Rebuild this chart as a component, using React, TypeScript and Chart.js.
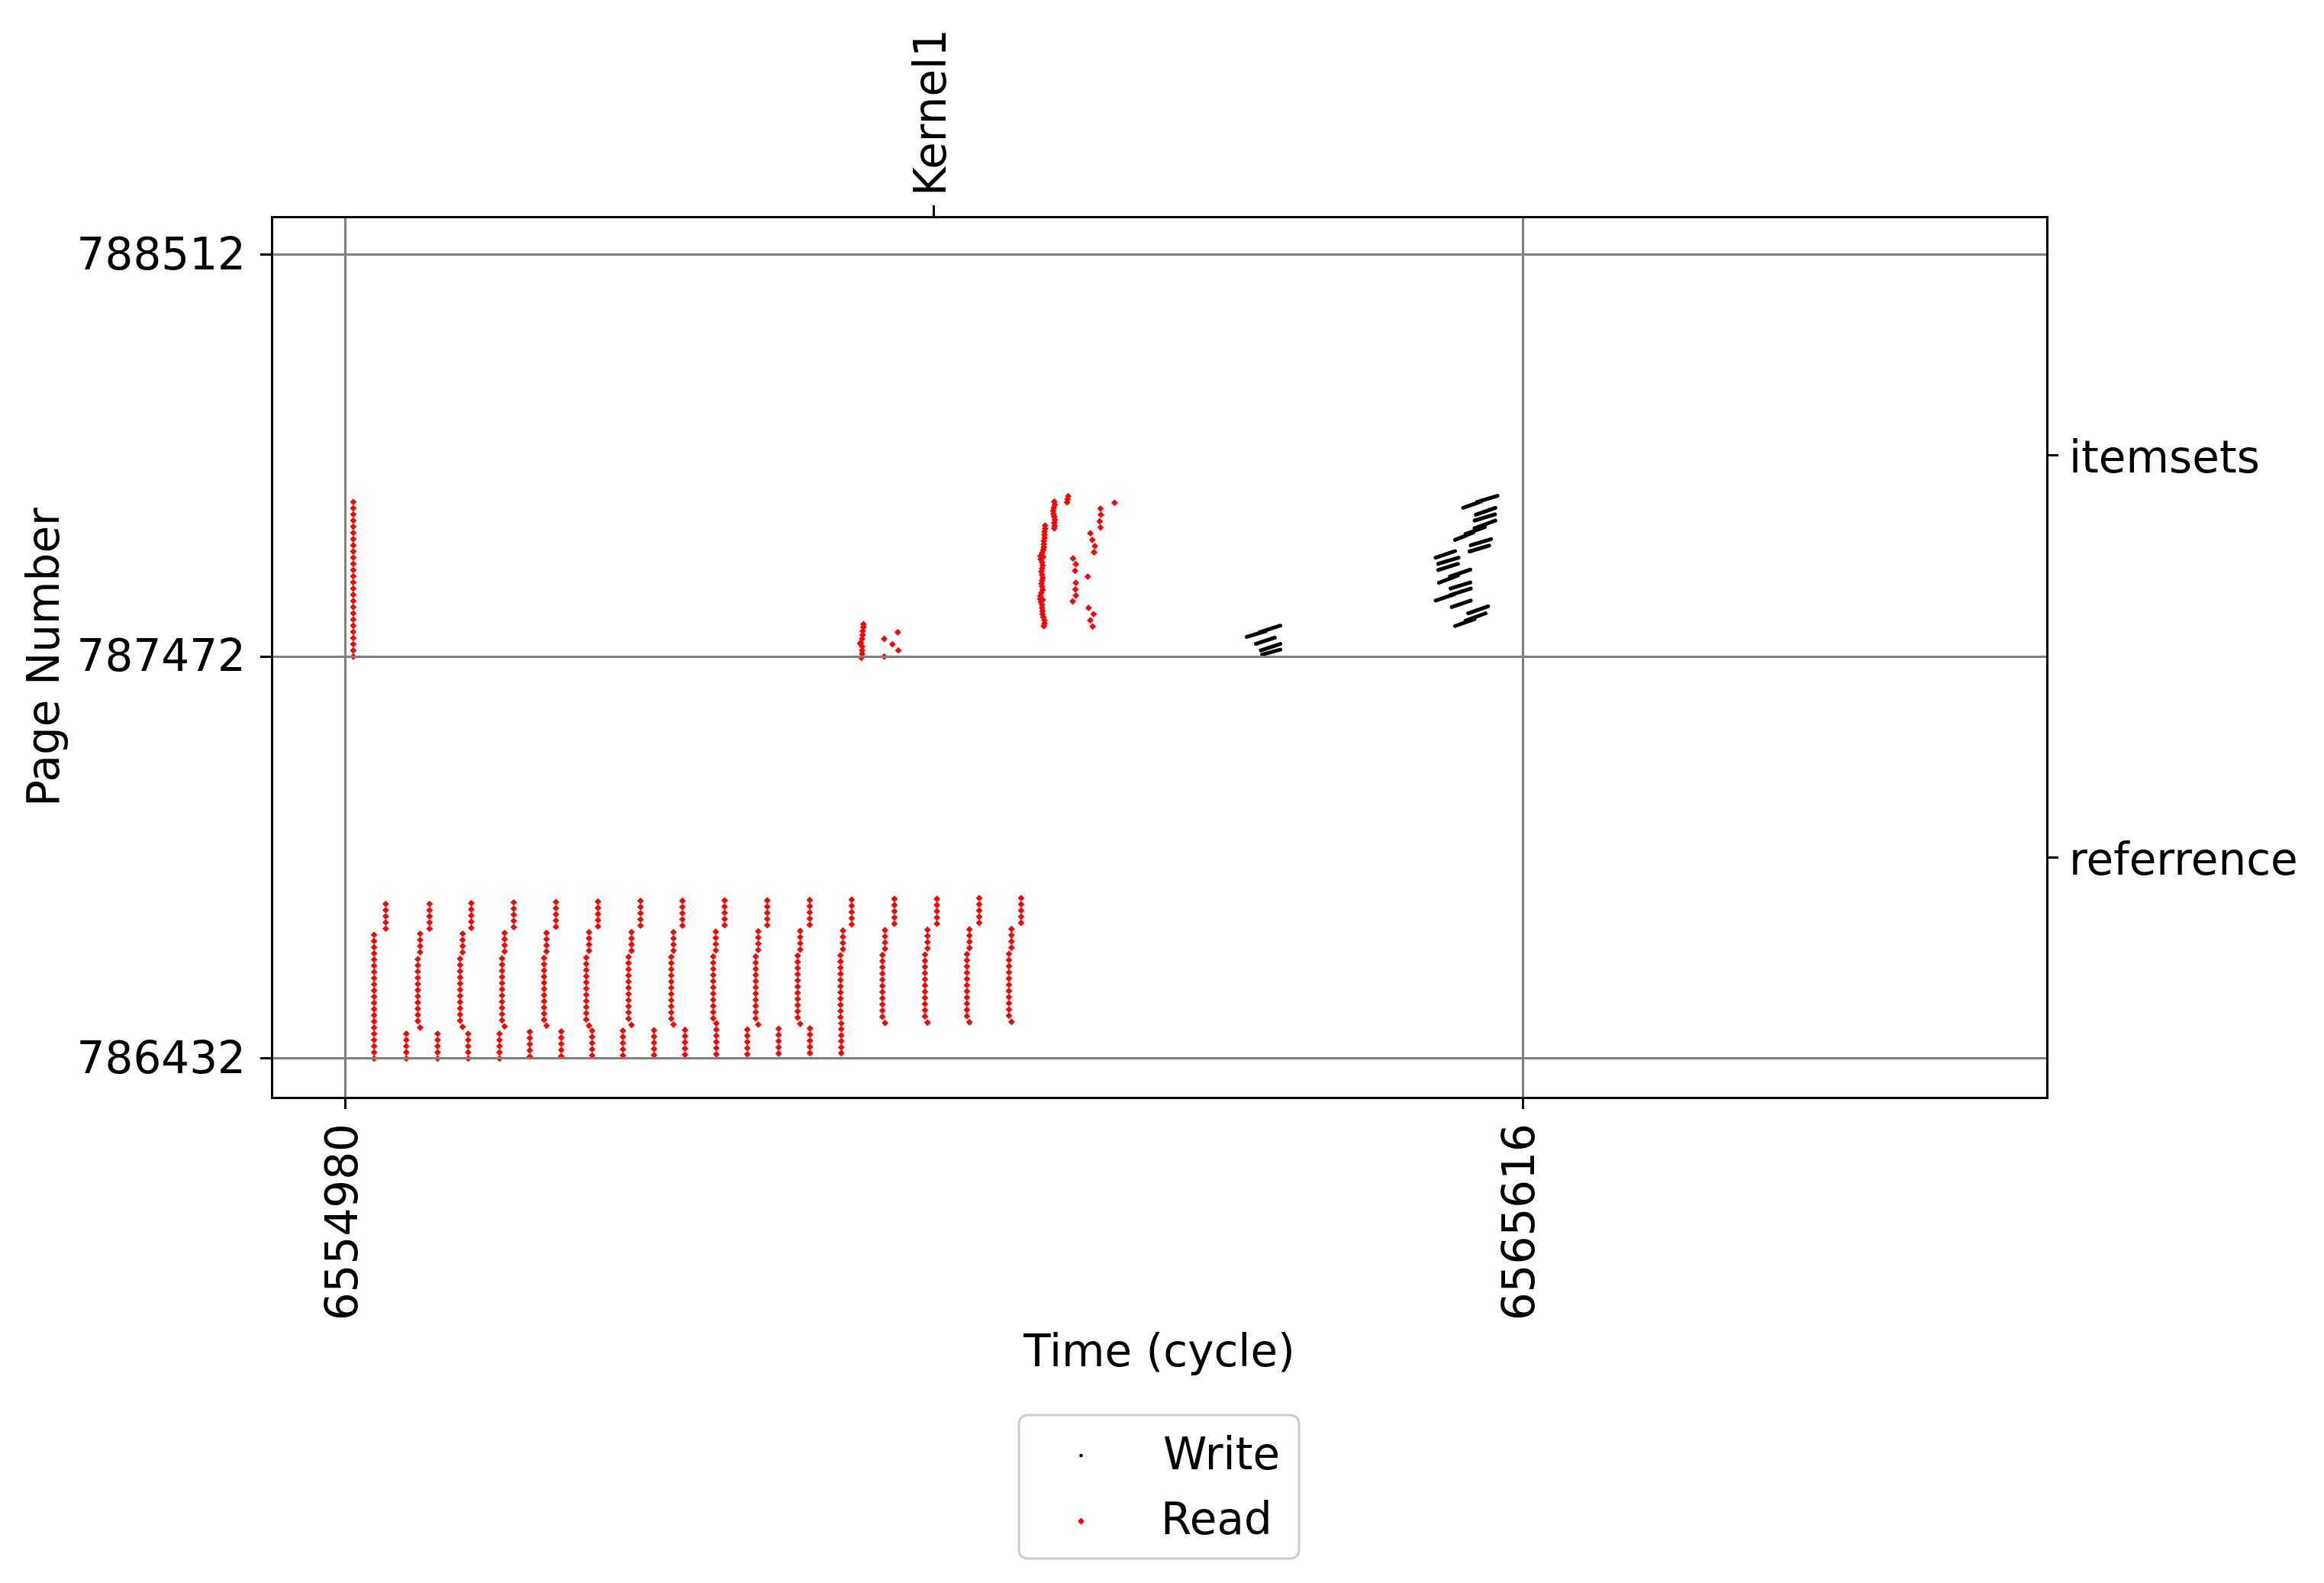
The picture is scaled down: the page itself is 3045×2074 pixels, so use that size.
import React, { useEffect, useRef } from 'react';
import { Chart, registerables } from 'chart.js';

Chart.register(...registerables);

const W = 3045;
const H = 2074;

// ---- axes ----
const X_MIN = 6554314;
const X_MAX = 6570353;
const Y_MIN = 786331;
const Y_MAX = 788610;
const xTicks = [6554980, 6565616];
const yTicks = [786432, 787472, 788512];
const topTickValues = [6560296];
const topTickLabels = ['Kernel1'];
const rightTickValues = [786952, 787992];
const rightTickLabels = ['referrence', 'itemsets'];

const xTitle = 'Time (cycle)';
const yTitle = 'Page Number';
const seriesNames = ['Write', 'Read'];

// ---- Read accesses, "referrence" region: vertical runs (cycle, pages) ----
const refRunCycles = [
  6555239, 6555344, 6555530, 6555634, 6555655, 6555740, 6555813, 6556016, 6556039, 6556089, 6556117,
  6556372, 6556395, 6556418, 6556501, 6556646, 6556775, 6556797, 6556882, 6556930,
  6557156, 6557181, 6557209, 6557262, 6557487, 6557538, 6557565, 6557646, 6557768,
  6557924, 6557944, 6558025, 6558048, 6558303, 6558326, 6558331, 6558406, 6558611,
  6558687, 6558710, 6558791, 6558894, 6559066, 6559089, 6559175, 6559177,
  6559453, 6559475, 6559460, 6559554, 6559832, 6559855, 6559940,
  6560216, 6560239, 6560324, 6560595, 6560618, 6560706, 6560975, 6560998, 6561085,
];

const refRunPages: number[][] = [
  [786432, 786448, 786464, 786480, 786496, 786512, 786528, 786544, 786560, 786576, 786592, 786608, 786624, 786640, 786656, 786672, 786688, 786704, 786720, 786736, 786752],
  [786768, 786784, 786800, 786816, 786832],
  [786432, 786448, 786464, 786480, 786496],
  [786529, 786545, 786561, 786577, 786593, 786609, 786625, 786641, 786657, 786673, 786689],
  [786512, 786707, 786723, 786739, 786755],
  [786768, 786784, 786800, 786816, 786832],
  [786432, 786448, 786464, 786480, 786496],
  [786530, 786546, 786562, 786578, 786594, 786610, 786626, 786642, 786658, 786674, 786690],
  [786514, 786707, 786723, 786739, 786755],
  [786432, 786448, 786464, 786480, 786496],
  [786770, 786786, 786802, 786818, 786834],
  [786432, 786448, 786464, 786480, 786496],
  [786531, 786547, 786563, 786579, 786595, 786611, 786627, 786643, 786659, 786675, 786691],
  [786515, 786709, 786725, 786741, 786757],
  [786772, 786788, 786804, 786820, 786836],
  [786437, 786453, 786469, 786485, 786501],
  [786532, 786548, 786564, 786580, 786596, 786612, 786628, 786644, 786660, 786676, 786692],
  [786517, 786709, 786725, 786741, 786757],
  [786773, 786789, 786805, 786821, 786837],
  [786438, 786454, 786470, 786486, 786502],
  [786533, 786549, 786565, 786581, 786597, 786613, 786629, 786645, 786661, 786677, 786693],
  [786517, 786711, 786727, 786743, 786759],
  [786440, 786456, 786472, 786488, 786504],
  [786774, 786790, 786806, 786822, 786838],
  [786440, 786456, 786472, 786488, 786504],
  [786535, 786551, 786567, 786583, 786599, 786615, 786631, 786647, 786663, 786679, 786695],
  [786519, 786711, 786727, 786743, 786759],
  [786776, 786792, 786808, 786824, 786840],
  [786441, 786457, 786473, 786489, 786505],
  [786535, 786551, 786567, 786583, 786599, 786615, 786631, 786647, 786663, 786679, 786695],
  [786520, 786711, 786727, 786743, 786759],
  [786776, 786792, 786808, 786824, 786840],
  [786442, 786458, 786474, 786490, 786506],
  [786536, 786552, 786568, 786584, 786600, 786616, 786632, 786648, 786664, 786680, 786696],
  [786712, 786728, 786744, 786760],
  [786443, 786459, 786475, 786491, 786507, 786523],
  [786777, 786793, 786809, 786825, 786841],
  [786443, 786459, 786475, 786491, 786507],
  [786536, 786552, 786568, 786584, 786600, 786616, 786632, 786648, 786664, 786680, 786696],
  [786520, 786713, 786729, 786745, 786761],
  [786777, 786793, 786809, 786825, 786841],
  [786445, 786461, 786477, 786493, 786509],
  [786538, 786554, 786570, 786586, 786602, 786618, 786634, 786650, 786666, 786682, 786698],
  [786522, 786714, 786730, 786746, 786762],
  [786778, 786794, 786810, 786826, 786842],
  [786446, 786462, 786478, 786494, 786510],
  [786539, 786555, 786571, 786587, 786603, 786619, 786635, 786651, 786667, 786683, 786699],
  [786715, 786731, 786747, 786763],
  [786446, 786461, 786477, 786492, 786508, 786523],
  [786779, 786795, 786811, 786827, 786843],
  [786540, 786556, 786572, 786588, 786604, 786620, 786636, 786652, 786668, 786684, 786700],
  [786524, 786716, 786732, 786748, 786764],
  [786781, 786797, 786813, 786829, 786845],
  [786541, 786557, 786573, 786589, 786605, 786621, 786637, 786653, 786669, 786685, 786701],
  [786525, 786717, 786733, 786749, 786765],
  [786781, 786797, 786813, 786829, 786845],
  [786542, 786558, 786574, 786590, 786606, 786622, 786638, 786654, 786670, 786686, 786702],
  [786526, 786718, 786734, 786750, 786766],
  [786783, 786799, 786815, 786831, 786847],
  [786543, 786559, 786575, 786591, 786607, 786623, 786639, 786655, 786671, 786687, 786703],
  [786527, 786719, 786735, 786751, 786767],
  [786783, 786799, 786815, 786831, 786847],
];

// ---- Read accesses, "itemsets" region: first column ----
const itemColumnCycle = 6555051;
const itemColumnPages = [
  787472, 787488, 787504, 787520, 787536, 787552, 787568, 787584, 787600, 787616, 787632, 787648, 787664,
  787680, 787696, 787712, 787728, 787744, 787760, 787776, 787792, 787808, 787824, 787840, 787856, 787872,
];

// ---- Read accesses, "itemsets" region: clusters (cycle, page) ----
const itemReadPoints: [number, number][] = [
  // cluster near 6559650
  [6559660, 787556], [6559660, 787548], [6559653, 787538], [6559653, 787528], [6559648, 787518],
  [6559637, 787508], [6559630, 787506], [6559648, 787498], [6559648, 787488], [6559648, 787479], [6559641, 787469],
  [6559848, 787518], [6559848, 787472], [6559922, 787504], [6559970, 787535], [6559975, 787488],
  // tall cluster near 6561280
  [6561301, 787811], [6561301, 787803], [6561296, 787795], [6561296, 787787], [6561296, 787779],
  [6561290, 787771], [6561290, 787763], [6561290, 787755], [6561285, 787748], [6561274, 787740],
  [6561259, 787732], [6561285, 787730], [6561262, 787724], [6561274, 787716], [6561280, 787708],
  [6561274, 787700], [6561268, 787692], [6561274, 787684], [6561280, 787676], [6561274, 787669],
  [6561268, 787661], [6561274, 787653], [6561280, 787645], [6561267, 787637], [6561259, 787629],
  [6561257, 787621], [6561280, 787619], [6561264, 787613], [6561274, 787606], [6561274, 787598],
  [6561278, 787590], [6561278, 787582], [6561285, 787574], [6561296, 787566], [6561296, 787558],
  [6561290, 787551],
  [6561384, 787873], [6561390, 787865], [6561380, 787857], [6561374, 787849], [6561378, 787841],
  [6561384, 787834], [6561390, 787826], [6561384, 787818], [6561388, 787810], [6561384, 787804],
  [6561510, 787887], [6561505, 787879], [6561500, 787871],
  // scattered reads
  [6561929, 787870], [6561802, 787855], [6561806, 787839], [6561795, 787822], [6561802, 787806],
  [6561710, 787791], [6561728, 787774], [6561751, 787758], [6561744, 787742],
  [6561554, 787726], [6561579, 787711], [6561572, 787694], [6561687, 787679], [6561579, 787663],
  [6561575, 787646], [6561579, 787630], [6561551, 787615], [6561694, 787598], [6561740, 787582],
  [6561710, 787566], [6561731, 787550],
];

// ---- Write accesses: dense streaks, given as (cycle1, page1, cycle2, page2) ----
const writeStreaks: [number, number, number, number][] = [
  [6563124, 787523, 6563296, 787538],
  [6563239, 787535, 6563427, 787552],
  [6563205, 787505, 6563377, 787521],
  [6563251, 787488, 6563427, 787505],
  [6563262, 787477, 6563427, 787490],
  [6565078, 787857, 6565239, 787873],
  [6565205, 787872, 6565389, 787888],
  [6565193, 787839, 6565370, 787857],
  [6565182, 787824, 6565366, 787840],
  [6565182, 787804, 6565370, 787824],
  [6565005, 787774, 6565170, 787793],
  [6565101, 787789, 6565274, 787807],
  [6565147, 787760, 6565331, 787776],
  [6565136, 787744, 6565313, 787759],
  [6564830, 787728, 6565005, 787745],
  [6564853, 787712, 6565037, 787728],
  [6564853, 787696, 6565032, 787712],
  [6564860, 787663, 6565032, 787682],
  [6564959, 787679, 6565143, 787697],
  [6564963, 787648, 6565143, 787664],
  [6564830, 787617, 6564998, 787633],
  [6564963, 787631, 6565147, 787648],
  [6564975, 787600, 6565147, 787617],
  [6565124, 787584, 6565304, 787602],
  [6565005, 787551, 6565182, 787569],
  [6565101, 787565, 6565281, 787584],
];

const FONT = "'DejaVu Sans', 'Liberation Sans', sans-serif";

const legendPlugin = {
  id: 'mplLegend',
  afterDraw(chart: any) {
    const ctx: CanvasRenderingContext2D = chart.ctx;
    ctx.save();
    const bx = 1335, by = 1854, bw = 367, bh = 188, r = 11;
    ctx.beginPath();
    ctx.moveTo(bx + r, by);
    ctx.lineTo(bx + bw - r, by);
    ctx.arcTo(bx + bw, by, bx + bw, by + r, r);
    ctx.lineTo(bx + bw, by + bh - r);
    ctx.arcTo(bx + bw, by + bh, bx + bw - r, by + bh, r);
    ctx.lineTo(bx + r, by + bh);
    ctx.arcTo(bx, by + bh, bx, by + bh - r, r);
    ctx.lineTo(bx, by + r);
    ctx.arcTo(bx, by, bx + r, by, r);
    ctx.closePath();
    ctx.fillStyle = 'rgba(255,255,255,0.8)';
    ctx.fill();
    ctx.lineWidth = 3;
    ctx.strokeStyle = '#cccccc';
    ctx.stroke();

    // Write marker: small black dot
    ctx.beginPath();
    ctx.arc(1416.5, 1907, 2.3, 0, Math.PI * 2);
    ctx.fillStyle = '#000';
    ctx.fill();
    // Read marker: red diamond
    const cx = 1416.5, cy = 1993, d = 4.4;
    ctx.beginPath();
    ctx.moveTo(cx - d, cy);
    ctx.lineTo(cx, cy - d);
    ctx.lineTo(cx + d, cy);
    ctx.lineTo(cx, cy + d);
    ctx.closePath();
    ctx.fillStyle = '#ff0000';
    ctx.fill();

    ctx.fillStyle = '#000';
    ctx.font = `58px ${FONT}`;
    ctx.textAlign = 'left';
    ctx.textBaseline = 'alphabetic';
    const labels = chart.data.datasets.map((ds: any) => ds.label);
    ctx.fillText(labels[0], 1524, 1925);
    ctx.fillText(labels[1], 1521, 2010);
    ctx.restore();
  },
};

export default function App() {
  const ref = useRef<HTMLCanvasElement | null>(null);

  useEffect(() => {
    const canvas = ref.current;
    if (!canvas) return;

    const readData = [
      ...itemColumnPages.map((p) => ({ x: itemColumnCycle, y: p })),
      ...refRunCycles.flatMap((c, i) => refRunPages[i].map((p) => ({ x: c, y: p }))),
      ...itemReadPoints.map(([x, y]) => ({ x, y })),
    ];
    const writeData = writeStreaks.flatMap(([x1, y1, x2, y2]) => [
      { x: x1, y: y1 },
      { x: x2, y: y2 },
      { x: NaN, y: NaN },
    ]);

    const font = (size: number) => ({ family: FONT, size, lineHeight: 1.2 });
    const tickMarks = (onArea: boolean) => ({
      display: true,
      drawOnChartArea: onArea,
      drawTicks: true,
      color: '#808080',
      lineWidth: 3,
      tickLength: 15,
      tickWidth: 3,
      tickColor: '#000',
      z: 1,
    });
    const border = { display: true, color: '#000', width: 3, z: 2 };

    const chart = new Chart(canvas, {
      type: 'scatter',
      data: {
        datasets: [
          {
            label: seriesNames[0],
            data: writeData,
            showLine: true,
            spanGaps: false,
            borderColor: '#000',
            backgroundColor: '#000',
            borderWidth: 5,
            borderCapStyle: 'round',
            pointRadius: 0,
            pointHoverRadius: 0,
          } as any,
          {
            label: seriesNames[1],
            data: readData,
            showLine: false,
            pointStyle: 'rectRot',
            pointRadius: 4.4,
            pointHoverRadius: 4.4,
            pointBorderWidth: 0,
            borderWidth: 0,
            backgroundColor: '#ff0000',
            borderColor: '#ff0000',
          } as any,
        ],
      },
      options: {
        responsive: false,
        maintainAspectRatio: false,
        devicePixelRatio: 1,
        animation: false,
        events: [],
        layout: { padding: 0 },
        plugins: {
          legend: { display: false },
          title: { display: false },
          tooltip: { enabled: false },
        },
        scales: {
          x: {
            type: 'linear',
            position: 'bottom',
            min: X_MIN,
            max: X_MAX,
            afterBuildTicks: (s: any) => {
              s.ticks = xTicks.map((v) => ({ value: v }));
            },
            afterFit: (s: any) => {
              s.height = 636;
              s.paddingLeft = 0;
              s.paddingRight = 0;
              s.paddingTop = 0;
              s.paddingBottom = 0;
            },
            ticks: {
              autoSkip: false,
              minRotation: 90,
              maxRotation: 90,
              padding: 19,
              color: '#000',
              font: font(58),
              callback: (v: any) => String(v),
            },
            grid: tickMarks(true),
            border,
            title: { display: true, text: xTitle, color: '#000', font: font(58), padding: { top: 0, bottom: 264 } },
          },
          x2: {
            type: 'linear',
            position: 'top',
            min: X_MIN,
            max: X_MAX,
            afterBuildTicks: (s: any) => {
              s.ticks = topTickValues.map((v) => ({ value: v }));
            },
            afterFit: (s: any) => {
              s.height = 284;
              s.paddingLeft = 0;
              s.paddingRight = 0;
              s.paddingTop = 0;
              s.paddingBottom = 0;
            },
            ticks: {
              autoSkip: false,
              minRotation: 90,
              maxRotation: 90,
              padding: 12,
              labelOffset: 70,
              color: '#000',
              font: font(58),
              callback: (v: any) => topTickLabels[topTickValues.indexOf(Number(v))] ?? '',
            },
            grid: tickMarks(false),
            border,
          },
          y: {
            type: 'linear',
            position: 'left',
            min: Y_MIN,
            max: Y_MAX,
            afterBuildTicks: (s: any) => {
              s.ticks = yTicks.map((v) => ({ value: v }));
            },
            afterFit: (s: any) => {
              s.width = 356;
              s.paddingLeft = 0;
              s.paddingRight = 0;
              s.paddingTop = 0;
              s.paddingBottom = 0;
            },
            ticks: {
              autoSkip: false,
              padding: 19,
              labelOffset: 4,
              color: '#000',
              font: font(58),
              callback: (v: any) => String(v),
            },
            grid: tickMarks(true),
            border,
            title: { display: true, text: yTitle, color: '#000', font: font(58), padding: { top: 27, bottom: 0 } },
          },
          y2: {
            type: 'linear',
            position: 'right',
            min: Y_MIN,
            max: Y_MAX,
            afterBuildTicks: (s: any) => {
              s.ticks = rightTickValues.map((v) => ({ value: v }));
            },
            afterFit: (s: any) => {
              s.width = 363;
              s.paddingLeft = 0;
              s.paddingRight = 0;
              s.paddingTop = 0;
              s.paddingBottom = 0;
            },
            ticks: {
              autoSkip: false,
              padding: 14,
              labelOffset: 7,
              color: '#000',
              font: font(58),
              callback: (v: any) => rightTickLabels[rightTickValues.indexOf(Number(v))] ?? '',
            },
            grid: tickMarks(false),
            border,
          },
        },
      } as any,
      plugins: [legendPlugin],
    });

    return () => {
      chart.destroy();
    };
  }, []);

  return (
    <div style={{ position: 'absolute', left: 0, top: 0, width: W, height: H, background: '#fff' }}>
      <canvas ref={ref} width={W} height={H} style={{ width: W, height: H, display: 'block' }} />
    </div>
  );
}
